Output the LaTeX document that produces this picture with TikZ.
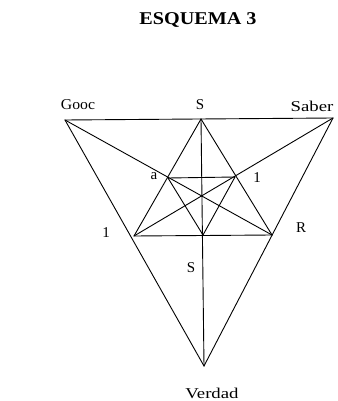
\documentclass[tikz,border=0pt]{standalone}
\usepackage{fontspec}
\setmainfont{Liberation Serif}
\begin{document}
\begin{tikzpicture}[x=1pt,y=-1pt,
  edge/.style={draw=black,line width=0.9pt},
  lbl/.style={inner sep=0pt,font=\fontsize{15}{17}\selectfont},
  ttl/.style={inner sep=0pt,font=\fontsize{18}{20}\selectfont\bfseries}]
\useasboundingbox (0,0) rectangle (337,401);
% vertices
\coordinate (G) at (65,120);
\coordinate (B) at (333,118);
\coordinate (V) at (204,366);
\coordinate (T) at (201,119);
\coordinate (A) at (168,178);
\coordinate (J) at (235,177);
\coordinate (L) at (134,236);
\coordinate (R) at (272,235);
\coordinate (M) at (203,235);
% outer triangle
\draw[edge] (G) -- (B) -- (V) -- cycle;
% diagonals
\draw[edge] (G) -- (R);
\draw[edge] (B) -- (L);
% upper triangle
\draw[edge] (T) -- (L) -- (R) -- cycle;
% lower inner triangle
\draw[edge] (A) -- (J) -- (M) -- cycle;
% vertical
\draw[edge] (T) -- (V);
% labels
\node[ttl] (title) at (198,20) {\scalebox{1.12}[1]{ESQUEMA 3}};
\node[lbl] (lg) at (78,105) {\scalebox{1.05}[1]{Gooc}};
\node[lbl] (ls) at (200,105) {S};
\node[lbl] (lb) at (312,106) {\scalebox{1.25}[1]{Saber}};
\node[lbl] (la) at (154,176) {a};
\node[lbl] (lj) at (257,178) {1};
\node[lbl] (ll) at (106,233) {1};
\node[lbl] (lr) at (301,228) {R};
\node[lbl] (lsb) at (191,268) {S};
\node[lbl] (lv) at (212,393) {\scalebox{1.25}[1]{Verdad}};
\end{tikzpicture}
\end{document}
